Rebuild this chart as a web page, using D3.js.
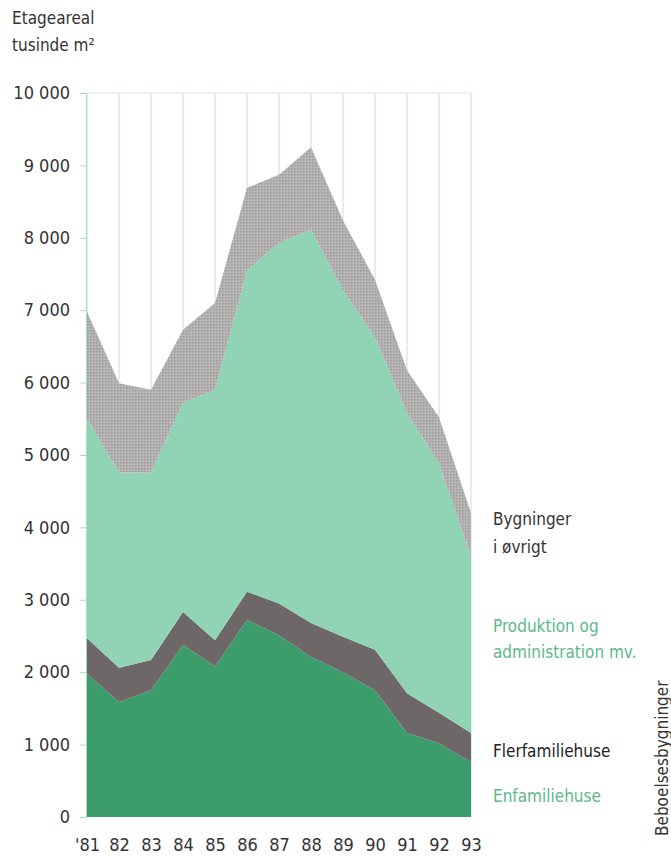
<!DOCTYPE html>
<html><head><meta charset="utf-8">
<script src="https://cdn.jsdelivr.net/npm/d3@7"></script>
<style>
body{margin:0;background:#fff}
text{font-family:"DejaVu Sans Condensed","Liberation Sans",sans-serif}
</style></head><body>
<svg id="c" width="671" height="857"></svg>
<script>
const years = ["'81","82","83","84","85","86","87","88","89","90","91","92","93"];
const enfamiliehuse   = [1980,1590,1750,2380,2080,2720,2510,2210,2000,1750,1160,1020,760];
const flerfamiliehuse = [490,470,420,450,360,390,440,470,490,560,550,420,400];
const produktion      = [3030,2700,2590,2890,3460,4440,4980,5430,4790,4320,3870,3450,2430];
const oevrigt         = [1480,1230,1140,1010,1200,1140,940,1140,960,790,590,630,610];
const yTicks = [0,1000,2000,3000,4000,5000,6000,7000,8000,9000,10000];

const svg = d3.select("#c");
const x = d3.scalePoint().domain(years).range([87,471]);
const y = d3.scaleLinear().domain([0,10000]).range([817,93]);

const keys = ["enf","fler","prod","oev"];
const rows = years.map((yr,i)=>({yr, enf:enfamiliehuse[i], fler:flerfamiliehuse[i], prod:produktion[i], oev:oevrigt[i]}));
const series = d3.stack().keys(keys)(rows);
const colors = {enf:"#3c9c6c", fler:"#6e6767", prod:"#90d3b5", oev:"#aeaaaa"};

const defs = svg.append("defs");
const pat = defs.append("pattern").attr("id","dots").attr("width",3).attr("height",3).attr("patternUnits","userSpaceOnUse");
pat.append("rect").attr("width",3).attr("height",3).attr("fill","#b9b6b6");
pat.append("rect").attr("width",1.5).attr("height",1.5).attr("fill","#9c9898");

svg.append("g").selectAll("line").data(years).join("line")
  .attr("x1",d=>x(d)).attr("x2",d=>x(d)).attr("y1",y(10000)).attr("y2",y(0))
  .attr("stroke","#c3e2d3").attr("stroke-width",1);
svg.append("line").attr("x1",80).attr("x2",x("93")).attr("y1",y(10000)).attr("y2",y(10000))
  .attr("stroke","#d4eee2").attr("stroke-width",1);

const area = d3.area().x(d=>x(d.data.yr)).y0(d=>y(d[0])).y1(d=>y(d[1]));
svg.append("g").selectAll("path").data(series).join("path")
  .attr("d",area)
  .attr("fill",d=>d.key==="oev"?"url(#dots)":colors[d.key]);

const ya = d3.axisLeft(y).tickValues(yTicks).tickSize(6).tickPadding(10)
  .tickFormat(d=>d3.format(",")(d).replace(",", " "));
const gy = svg.append("g").attr("transform","translate(86,0)").call(ya);
gy.select(".domain").attr("stroke","#a8dcc2");
gy.selectAll(".tick line").attr("stroke","#a8dcc2");
gy.selectAll(".tick text").attr("font-size",18).attr("fill","#333");

const xa = d3.axisBottom(x).tickSize(0).tickPadding(21);
const gx = svg.append("g").attr("transform",`translate(0,${y(0)})`).call(xa);
gx.select(".domain").remove();
gx.selectAll(".tick text").attr("font-size",18).attr("fill","#333");

svg.append("text").attr("x",12).attr("y",24).attr("font-size",17).attr("fill","#333").text("Etageareal");
svg.append("text").attr("x",12).attr("y",51).attr("font-size",17).attr("fill","#333").text("tusinde m²");

const lab = (t,xx,yy,c)=>svg.append("text").attr("x",xx).attr("y",yy).attr("font-size",17).attr("fill",c).text(t);
lab("Bygninger",493,525,"#333");
lab("i øvrigt",493,553,"#333");
lab("Produktion og",493,632,"#5cb88a");
lab("administration mv.",493,658,"#5cb88a");
lab("Flerfamiliehuse",493,757,"#222");
lab("Enfamiliehuse",493,802,"#5cb88a");
svg.append("text").attr("transform","translate(668,836) rotate(-90)").attr("font-size",17).attr("fill","#333").text("Beboelsesbygninger");
</script></body></html>
